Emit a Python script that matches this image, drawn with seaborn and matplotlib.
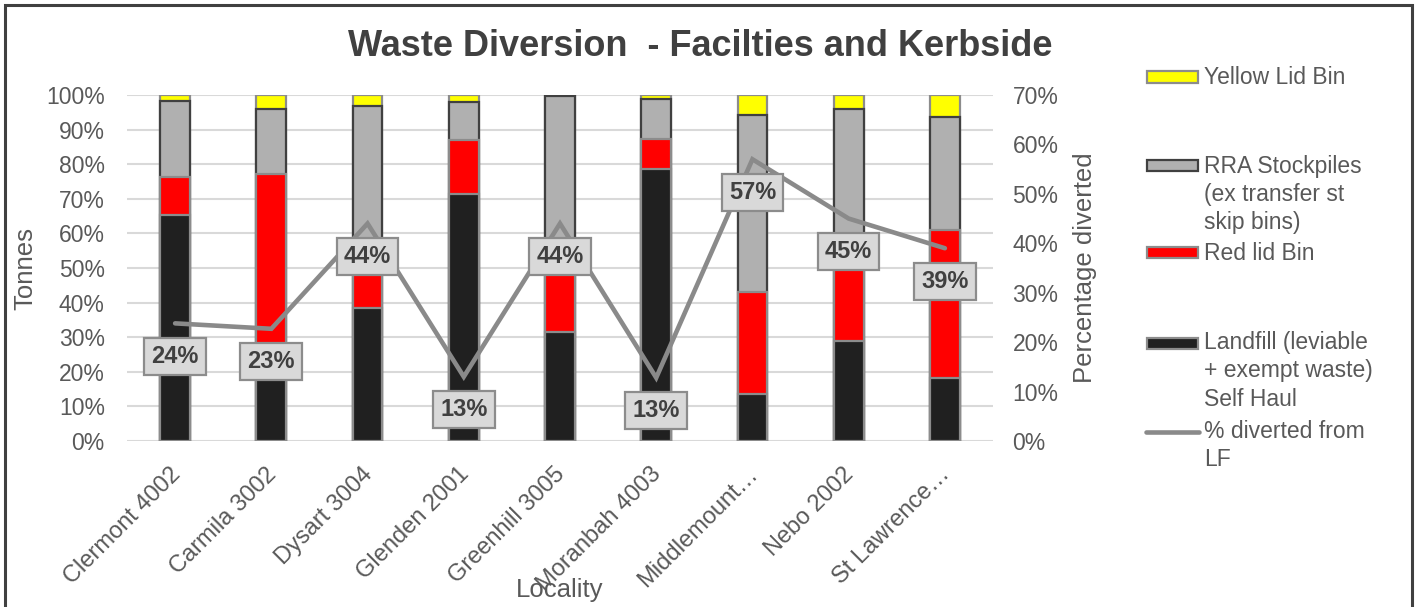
import numpy as np
import pandas as pd
import matplotlib
matplotlib.use("Agg")
import matplotlib.pyplot as plt
import matplotlib.transforms as mtransforms
from matplotlib.patches import Rectangle
from matplotlib.lines import Line2D
from matplotlib.ticker import FuncFormatter, MultipleLocator
import seaborn as sns

# ---- data: share of tonnes per stream (%) for each locality ----
localities = ["Clermont 4002", "Carmila 3002", "Dysart 3004", "Glenden 2001",
              "Greenhill 3005", "Moranbah 4003", "Middlemount\u2026", "Nebo 2002",
              "St Lawrence\u2026"]
landfill = [65.3, 22.0, 38.3, 71.4, 31.5, 78.5, 13.5, 28.9, 18.2]
red_lid = [10.9, 55.3, 17.7, 15.6, 24.5, 8.7, 29.5, 26.1, 42.8]
rra_stockpiles = [22.2, 18.7, 40.7, 11.1, 43.7, 11.7, 51.2, 41.0, 32.5]
yellow_lid = [1.6, 4.0, 3.3, 1.9, 0.3, 1.1, 5.8, 4.0, 6.5]
pct_diverted = [23.8, 22.7, 44.0, 13.0, 44.0, 12.8, 57.0, 45.0, 39.0]

series_names = ["Yellow Lid Bin", "RRA Stockpiles\n(ex transfer st\nskip bins)",
                "Red lid Bin", "Landfill (leviable\n+ exempt waste)\nSelf Haul"]
line_name = "% diverted from\nLF"

# ---- styling ----
sns.set_theme(style="white")
plt.rcParams["font.family"] = ["Liberation Sans", "DejaVu Sans"]
TXT = "#595959"
DARK = "#404040"
C_YELLOW, C_GREY, C_RED, C_BLACK = "#ffff00", "#b0b0b0", "#ff0000", "#202020"
EDGE_LIGHT, EDGE_DARK = "#8c8c8c", "#404040"
LINE_C = "#8a8a8a"

W, H, DPI = 1416, 607, 100
fig = plt.figure(figsize=(W / DPI, H / DPI), dpi=DPI)

def fx(px):
    return px / W

def fy(py):
    return 1 - py / H

ax_l, ax_r, ax_t, ax_b = 127, 993, 95, 441
ax = fig.add_axes([fx(ax_l), fy(ax_b), fx(ax_r - ax_l), (ax_b - ax_t) / H])

df = pd.DataFrame({"Locality": localities, "landfill": landfill, "red": red_lid,
                   "rra": rra_stockpiles, "yellow": yellow_lid})
df["cum_red"] = df["landfill"] + df["red"]
df["cum_rra"] = df["cum_red"] + df["rra"]
df["cum_yellow"] = df["cum_rra"] + df["yellow"]

# stacked bars drawn back-to-front from cumulative totals
layers = [("cum_yellow", C_YELLOW, EDGE_LIGHT),
          ("cum_rra", C_GREY, EDGE_DARK),
          ("cum_red", C_RED, EDGE_LIGHT),
          ("landfill", C_BLACK, EDGE_LIGHT)]
for col, fc, ec in layers:
    sns.barplot(data=df, x="Locality", y=col, color=fc, saturation=1, width=0.31,
                edgecolor=ec, linewidth=1.6, errorbar=None, ax=ax)

ax.set_ylim(0, 100)
ax.set_xlim(-0.5, len(localities) - 0.5)
ax.yaxis.set_major_locator(MultipleLocator(10))
ax.yaxis.set_major_formatter(FuncFormatter(lambda v, p: f"{v:.0f}%"))
ax.grid(axis="y", color="#d9d9d9", linewidth=1.5)
ax.grid(axis="x", visible=False)
ax.set_axisbelow(True)
for s in ax.spines.values():
    s.set_visible(False)
ax.tick_params(axis="y", length=0, pad=16, labelsize=16.5, labelcolor=TXT)
ax.tick_params(axis="x", length=0, pad=6, labelsize=17, labelcolor=TXT)

ax.set_xticks(range(len(localities)))
ax.set_xticklabels(localities, rotation=45, ha="right", va="top",
                   rotation_mode="anchor")
shift = mtransforms.ScaledTranslation(-6 / DPI, -14 / DPI, fig.dpi_scale_trans)
for lbl in ax.get_xticklabels():
    lbl.set_transform(lbl.get_transform() + shift)

ax.set_ylabel("Tonnes", fontsize=18.5, color=TXT, va="center")
ax.yaxis.set_label_coords((25 - ax_l) / (ax_r - ax_l), 0.5)
ax.set_xlabel("Locality", fontsize=18.5, color=TXT, va="center")
ax.xaxis.set_label_coords((560 - ax_l) / (ax_r - ax_l), (ax_b - 590) / (ax_b - ax_t))

# ---- diversion line on secondary axis ----
ax2 = ax.twinx()
xpos = np.arange(len(localities))
sns.lineplot(x=xpos, y=pct_diverted, ax=ax2, color=LINE_C, linewidth=3.3,
             solid_joinstyle="miter")
ax2.set_ylim(0, 70)
ax2.set_xlim(-0.5, len(localities) - 0.5)
ax2.yaxis.set_major_locator(MultipleLocator(10))
ax2.yaxis.set_major_formatter(FuncFormatter(lambda v, p: f"{v:.0f}%"))
ax2.grid(False)
for s in ax2.spines.values():
    s.set_visible(False)
ax2.tick_params(axis="y", length=0, pad=14, labelsize=16.5, labelcolor=TXT)
ax2.set_ylabel("Percentage diverted", fontsize=18.5, color=TXT, va="center")
ax2.yaxis.set_label_coords((1085 - ax_l) / (ax_r - ax_l), 0.5)

for i, v in enumerate(pct_diverted):
    ax2.annotate(f"{v:.0f}%", xy=(i, v), xytext=(0, -33), textcoords="offset pixels",
                 ha="center", va="center", fontsize=17, fontweight="bold", color=DARK,
                 bbox=dict(boxstyle="square,pad=0.3", fc="#d9d9d9", ec=EDGE_LIGHT, lw=1.6),
                 zorder=6)

# ---- title ----
fig.text(fx(700), fy(47), "Waste Diversion  - Facilties and Kerbside", ha="center",
         va="center", fontsize=26, fontweight="bold", color=DARK)

# ---- legend ----
legend_items = [(series_names[0], C_YELLOW, EDGE_LIGHT, 77),
                (series_names[1], C_GREY, EDGE_DARK, 166),
                (series_names[2], C_RED, EDGE_LIGHT, 253),
                (series_names[3], C_BLACK, EDGE_LIGHT, 343)]
for name, fc, ec, yc in legend_items:
    fig.add_artist(Rectangle((fx(1147), fy(yc + 5.5)), fx(51), 11 / H,
                             transform=fig.transFigure, fc=fc, ec=ec, lw=1.6))
    for k, line in enumerate(name.split("\n")):
        fig.text(fx(1204), fy(yc + 28 * k), line, ha="left", va="center",
                 fontsize=16.5, color=TXT)
fig.add_artist(Line2D([fx(1146), fx(1199)], [fy(432), fy(432)],
                      transform=fig.transFigure, color=LINE_C, lw=3.3,
                      solid_capstyle="round"))
for k, line in enumerate(line_name.split("\n")):
    fig.text(fx(1204), fy(432 + 27 * k), line, ha="left", va="center",
             fontsize=16.5, color=TXT)

# ---- chart frame ----
fig.add_artist(Rectangle((fx(5), fy(640)), fx(1407), 635 / H,
                         transform=fig.transFigure, fill=False, ec=DARK, lw=2.2))

fig.savefig("out.png", dpi=DPI)
